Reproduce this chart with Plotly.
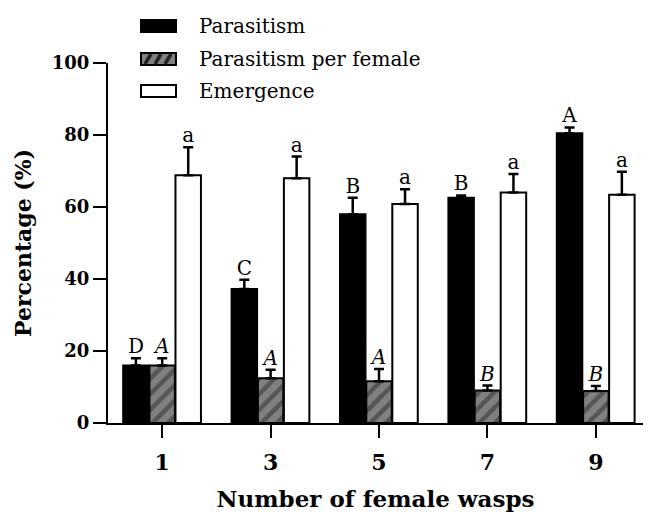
import plotly.graph_objects as go

wasps = [1, 3, 5, 7, 9]
tick_labels = ["1", "3", "5", "7", "9"]

parasitism = [16.0, 37.2, 58.0, 62.6, 80.5]
parasitism_err = [2.0, 2.6, 4.6, 0.6, 1.6]
parasitism_letters = ["D", "C", "B", "B", "A"]

per_female = [16.0, 12.4, 11.6, 9.0, 8.9]
per_female_err = [2.0, 2.4, 3.4, 1.4, 1.4]
per_female_letters = ["<i>A</i>", "<i>A</i>", "<i>A</i>", "<i>B</i>", "<i>B</i>"]

emergence = [68.8, 68.0, 60.8, 64.0, 63.4]
emergence_err = [7.8, 6.0, 4.1, 5.2, 6.4]
emergence_letters = ["a", "a", "a", "a", "a"]

series_names = ["Parasitism", "Parasitism per female", "Emergence"]

FONT = "DejaVu Serif"
W, H = 651, 516
L, R, T, B = 108, 8, 63, 93
PW, PH = W - L - R, H - T - B

bar_w = 0.47
offsets = [-0.72, -0.235, 0.245]

fig = go.Figure()

series = [
    (parasitism, parasitism_err, parasitism_letters, dict(color="black", line=dict(color="black", width=2))),
    (per_female, per_female_err, per_female_letters,
     dict(color="#808080", line=dict(color="black", width=2),
          pattern=dict(shape="/", fgcolor="#2a2a2a", bgcolor="#808080", size=11, solidity=0.4))),
    (emergence, emergence_err, emergence_letters, dict(color="white", line=dict(color="black", width=2))),
]

for (vals, errs, letters, marker), off, name in zip(series, offsets, series_names):
    fig.add_trace(go.Bar(
        x=wasps, y=vals, width=bar_w, offset=off, name=name, marker=marker,
        error_y=dict(type="data", array=errs, arrayminus=[0] * len(errs), symmetric=False,
                     color="black", thickness=2.5, width=5),
        showlegend=False,
    ))
    fig.add_trace(go.Scatter(
        x=[w + off + bar_w / 2 for w in wasps],
        y=[v + e for v, e in zip(vals, errs)],
        mode="text", text=letters, textposition="top center",
        textfont=dict(family=FONT, size=20, color="black"),
        showlegend=False, hoverinfo="skip",
    ))

# manual legend
def px_x(p):
    return (p - L) / PW

def px_y(p):
    return (H - B - p) / PH

legend_rows = [26, 59, 91]
for i, (name, yc) in enumerate(zip(series_names, legend_rows)):
    x0, x1 = px_x(141), px_x(176)
    y0, y1 = px_y(yc + 6), px_y(yc - 6)
    fill = ["black", "#808080", "white"][i]
    fig.add_shape(type="rect", xref="paper", yref="paper", x0=x0, x1=x1, y0=y0, y1=y1,
                  fillcolor=fill, line=dict(color="black", width=2), layer="above")
    if i == 1:
        for k in range(3):
            sx = 145 + k * 10
            fig.add_shape(type="line", xref="paper", yref="paper",
                          x0=px_x(sx), y0=px_y(yc + 5), x1=px_x(sx + 6), y1=px_y(yc - 5),
                          line=dict(color="#222", width=3.5), layer="above")
    fig.add_annotation(xref="paper", yref="paper", x=px_x(197), y=px_y(yc),
                       text=name, showarrow=False, xanchor="left", yanchor="middle",
                       font=dict(family=FONT, size=20, color="black"))

fig.update_layout(
    width=W, height=H,
    margin=dict(l=L, r=R, t=T, b=B),
    plot_bgcolor="white", paper_bgcolor="white",
    barmode="overlay",
    font=dict(family=FONT, color="black"),
    xaxis=dict(
        range=[0, 9.87], tickmode="array", tickvals=wasps, ticktext=tick_labels,
        showline=True, linecolor="black", linewidth=2, ticks="outside", ticklen=13, tickwidth=2,
        tickcolor="black", showgrid=False, zeroline=False, ticklabelstandoff=6,
        tickfont=dict(family=FONT, size=22, color="black", weight="bold"),
        title=dict(text="<b>Number of female wasps</b>", font=dict(family=FONT, size=23), standoff=16),
    ),
    yaxis=dict(
        range=[0, 100], tickvals=[0, 20, 40, 60, 80, 100],
        showline=True, linecolor="black", linewidth=2, ticks="outside", ticklen=13, tickwidth=2,
        tickcolor="black", showgrid=False, zeroline=False,
        tickfont=dict(family=FONT, size=18, color="black", weight="bold"),
        title=dict(text="<b>Percentage (%)</b>", font=dict(family=FONT, size=22), standoff=14),
    ),
)

fig.write_html("out.html")
